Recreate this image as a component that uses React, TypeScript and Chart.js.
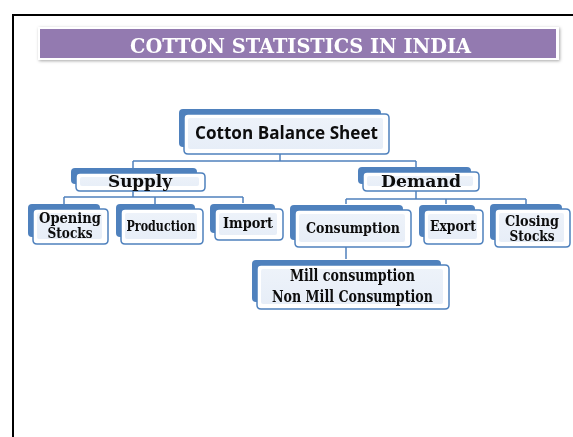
import React, { useEffect, useRef } from "react";
import { Chart, registerables } from "chart.js";

Chart.register(...registerables);

// ---- content ----
const titleText = "COTTON STATISTICS IN INDIA";
const nodeIds = ["root", "supply", "demand", "opening", "production", "import", "consumption", "export", "closing", "mill"];
const nodeLines: string[][] = [
  ["Cotton Balance Sheet"],
  ["Supply"],
  ["Demand"],
  ["Opening", "Stocks"],
  ["Production"],
  ["Import"],
  ["Consumption"],
  ["Export"],
  ["Closing", "Stocks"],
  ["Mill consumption", "Non Mill Consumption"],
];
const nodeParents = ["", "root", "root", "supply", "supply", "supply", "demand", "demand", "demand", "consumption"];

// ---- layout (chart units = page pixels) ----
// front box: left, top, right, bottom
const boxRects: number[][] = [
  [184, 114, 389, 154],
  [76, 173, 205, 191],
  [363, 172, 479, 191],
  [33, 209, 108, 244],
  [121, 209, 203, 244],
  [215, 209, 283, 240],
  [295, 210, 411, 247],
  [424, 210, 483, 244],
  [495, 209, 570, 247],
  [257, 265, 449, 309],
];
// text: center x, baselines, target widths, font size
const textCx = [286.5, 140, 421, 70, 161, 248, 353, 453, 532, 352.5];
const textBase: number[][] = [[139], [187], [187], [223, 238], [231], [228], [233], [231], [226, 241], [281, 302]];
const textW: number[][] = [[183], [64], [80], [62, 45], [69], [50], [94], [46], [54, 45], [125, 161]];
const textSize = [17, 16, 17, 15, 14, 14, 15, 14, 15, 16];

// connector lines x1,y1,x2,y2
const connectors: number[][] = [
  [280, 154, 280, 161],
  [133, 161, 416, 161],
  [133, 161, 133, 168],
  [416, 161, 416, 167],
  [133, 191, 133, 197],
  [64, 197, 243, 197],
  [64, 197, 64, 204],
  [155, 197, 155, 204],
  [243, 197, 243, 203],
  [416, 191, 416, 199],
  [346, 199, 526, 199],
  [346, 199, 346, 204],
  [446, 199, 446, 204],
  [526, 199, 526, 204],
  [346, 247, 346, 259],
];

const BLUE = "#4F81BD";
const PURPLE = "#937AB0";
const SERIF = '"DejaVu Serif", serif';
const SANS = '"Open Sans", "Noto Sans", sans-serif';

function rr(ctx: CanvasRenderingContext2D, x: number, y: number, w: number, h: number, r: number) {
  ctx.beginPath();
  ctx.moveTo(x + r, y);
  ctx.lineTo(x + w - r, y);
  ctx.quadraticCurveTo(x + w, y, x + w, y + r);
  ctx.lineTo(x + w, y + h - r);
  ctx.quadraticCurveTo(x + w, y + h, x + w - r, y + h);
  ctx.lineTo(x + r, y + h);
  ctx.quadraticCurveTo(x, y + h, x, y + h - r);
  ctx.lineTo(x, y + r);
  ctx.quadraticCurveTo(x, y, x + r, y);
  ctx.closePath();
}

function fitText(ctx: CanvasRenderingContext2D, text: string, cx: number, base: number, targetW: number, font: string) {
  ctx.font = font;
  const w = ctx.measureText(text).width || 1;
  const sx = targetW / w;
  ctx.save();
  ctx.translate(cx, base);
  ctx.scale(sx, 1);
  ctx.textAlign = "center";
  ctx.textBaseline = "alphabetic";
  ctx.fillText(text, 0, 0);
  ctx.restore();
}

const diagramPlugin = {
  id: "diagram",
  afterDraw(chart: any) {
    const ctx: CanvasRenderingContext2D = chart.ctx;
    const xs = chart.scales.x;
    const ys = chart.scales.y;
    const px = (v: number) => xs.getPixelForValue(v);
    const py = (v: number) => ys.getPixelForValue(v);
    ctx.save();

    // slide frame
    ctx.fillStyle = "#000";
    ctx.fillRect(px(12), py(14), px(573) - px(12), 2);
    ctx.fillRect(px(12), py(14), 2, py(437) - py(14));

    // title banner
    ctx.save();
    ctx.shadowColor = "rgba(0,0,0,0.35)";
    ctx.shadowBlur = 3;
    ctx.shadowOffsetX = 1;
    ctx.shadowOffsetY = 1;
    ctx.fillStyle = "#fff";
    ctx.fillRect(px(38), py(27), px(559) - px(38), py(60) - py(27));
    ctx.restore();
    ctx.fillStyle = PURPLE;
    ctx.fillRect(px(40), py(29), px(556) - px(40), py(58) - py(29));
    ctx.fillStyle = "#fff";
    fitText(ctx, titleText, px(300.5), py(53), px(471) - px(130), `bold 21px ${SERIF}`);

    // connectors
    ctx.strokeStyle = BLUE;
    ctx.lineWidth = 1.5;
    connectors.forEach(([x1, y1, x2, y2]) => {
      ctx.beginPath();
      ctx.moveTo(px(x1), py(y1));
      ctx.lineTo(px(x2), py(y2));
      ctx.stroke();
    });

    // boxes
    nodeIds.forEach((_, i) => {
      const [l, t, r, b] = boxRects[i];
      const x = px(l), y = py(t), w = px(r) - px(l), h = py(b) - py(t);
      // back shadow box
      ctx.fillStyle = BLUE;
      rr(ctx, x - 5, y - 5, w - 3, h - 2, 4);
      ctx.fill();
      // front box
      ctx.fillStyle = "#ffffff";
      rr(ctx, x, y, w, h, 4);
      ctx.fill();
      const g = ctx.createLinearGradient(0, y, 0, y + h);
      g.addColorStop(0, "#EEF3FA");
      g.addColorStop(1, "#E6EDF7");
      ctx.fillStyle = g;
      rr(ctx, x + 4, y + 4, w - 10, h - 9, 2);
      ctx.fill();
      ctx.strokeStyle = BLUE;
      ctx.lineWidth = 1.5;
      rr(ctx, x, y, w, h, 4);
      ctx.stroke();
      // text
      ctx.fillStyle = "#0d0d0d";
      const fam = i === 0 ? SANS : SERIF;
      nodeLines[i].forEach((line, j) => {
        fitText(ctx, line, px(textCx[i]), py(textBase[i][j]), textW[i][j], `bold ${textSize[i]}px ${fam}`);
      });
    });
    ctx.restore();
  },
};

export default function App() {
  const ref = useRef<HTMLCanvasElement | null>(null);
  useEffect(() => {
    if (!ref.current) return;
    const centers = boxRects.map(([l, t, r, b]) => ({ x: (l + r) / 2, y: (t + b) / 2 }));
    const chart = new Chart(ref.current, {
      type: "scatter",
      data: {
        datasets: [
          {
            label: "nodes",
            data: centers,
            pointRadius: 0,
            pointHoverRadius: 0,
          },
        ],
      },
      options: {
        animation: false,
        responsive: false,
        events: [],
        layout: { padding: 0 },
        scales: {
          x: { type: "linear", min: 0, max: 573, display: false },
          y: { type: "linear", min: 0, max: 437, reverse: true, display: false },
        },
        plugins: { legend: { display: false }, tooltip: { enabled: false }, title: { display: false } },
      },
      plugins: [diagramPlugin],
    });
    return () => chart.destroy();
  }, []);
  return (
    <div style={{ position: "absolute", left: 0, top: 0, width: 573, height: 437, background: "#fff" }}>
      <canvas ref={ref} width={573} height={437} style={{ display: "block" }} />
    </div>
  );
}
